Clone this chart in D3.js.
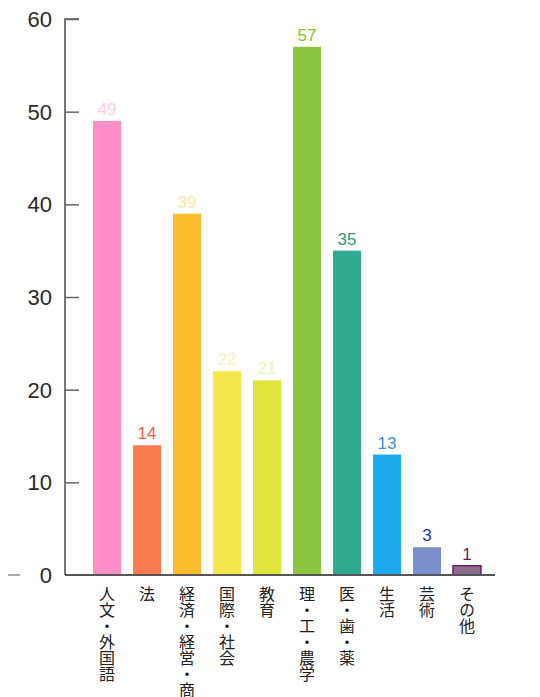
<!DOCTYPE html>
<html lang="ja">
<head>
<meta charset="utf-8">
<script src="https://d3js.org/d3.v7.min.js"></script>
<style>
  * { margin: 0; padding: 0; }
  body { background: #fff; width: 540px; height: 697px; overflow: hidden; }
  .xlab { font-family: "Noto Sans CJK JP", sans-serif; font-size: 16px; fill: #222;
          writing-mode: vertical-rl; text-orientation: upright; }
</style>
</head>
<body>
<div id="chart"></div>
<script>
// 学部系統別の数
var categories = ["人文・外国語", "法", "経済・経営・商", "国際・社会", "教育",
                  "理・工・農学", "医・歯・薬", "生活", "芸術", "その他"];
var values = [49, 14, 39, 22, 21, 57, 35, 13, 3, 1];
var barColors = ["#ff8ec6", "#f97b52", "#fbbd2e", "#f6e84c", "#dfe53c",
                 "#8cc63f", "#2eab90", "#1caaec", "#7b8fcc", "#8c6e8c"];
var labelColors = ["#fbd0e4", "#f2603e", "#fbe2a8", "#f8f3b8", "#eef2b0",
                   "#7ec61e", "#2a9a80", "#3a8ef0", "#2233aa", "#6a1a5a"];
var yTicks = [0, 10, 20, 30, 40, 50, 60];

var width = 540, height = 697;
var svg = d3.select("#chart").append("svg")
  .attr("width", width).attr("height", height);

var x = d3.scaleBand().domain(categories).range([87, 487]).paddingInner(0.3).paddingOuter(0.15);
var y = d3.scaleLinear().domain([0, 60]).range([575, 19]);

// y axis
var yAxis = d3.axisRight(y).tickValues(yTicks).tickSize(14).tickFormat("");
var gy = svg.append("g").attr("transform", "translate(65,0)").call(yAxis);
gy.select(".domain").attr("stroke", "#777").attr("stroke-width", 2).attr("d", "M14,19H0V575");
gy.selectAll(".tick line").attr("stroke", "#666").attr("stroke-width", 1.5);
gy.selectAll(".tick").filter(d => d === 0).select("line").remove();

svg.append("g").selectAll("text").data(yTicks).enter().append("text")
  .attr("x", 52).attr("y", d => y(d)).attr("dy", "0.36em")
  .attr("text-anchor", "end")
  .style("font-family", "Liberation Sans, Arial, sans-serif")
  .style("font-size", "22px").style("fill", "#2a2a2a")
  .text(d => d);

// small dash left of 0
svg.append("line").attr("x1", 8).attr("x2", 20).attr("y1", y(0)).attr("y2", y(0))
  .attr("stroke", "#aaa").attr("stroke-width", 2);

// bars
svg.append("g").selectAll("rect").data(values).enter().append("rect")
  .attr("x", (d, i) => x(categories[i]))
  .attr("y", d => y(d))
  .attr("width", x.bandwidth())
  .attr("height", d => y(0) - y(d))
  .attr("fill", (d, i) => barColors[i])
  .attr("stroke", (d, i) => i === 9 ? "#7a1a6a" : "none")
  .attr("stroke-width", 1.5);

// x axis line
svg.append("line").attr("x1", 65).attr("x2", 495).attr("y1", y(0)).attr("y2", y(0))
  .attr("stroke", "#555").attr("stroke-width", 2);

// value labels
svg.append("g").selectAll("text").data(values).enter().append("text")
  .attr("x", (d, i) => x(categories[i]) + x.bandwidth() / 2)
  .attr("y", d => y(d) - 6)
  .attr("text-anchor", "middle")
  .style("font-family", "Liberation Sans, Arial, sans-serif")
  .style("font-size", "17px")
  .style("fill", (d, i) => labelColors[i])
  .text(d => d);

// category labels (vertical)
svg.append("g").selectAll("text").data(categories).enter().append("text")
  .attr("class", "xlab")
  .attr("x", d => x(d) + x.bandwidth() / 2)
  .attr("y", 586)
  .text(d => d);
</script>
</body>
</html>
